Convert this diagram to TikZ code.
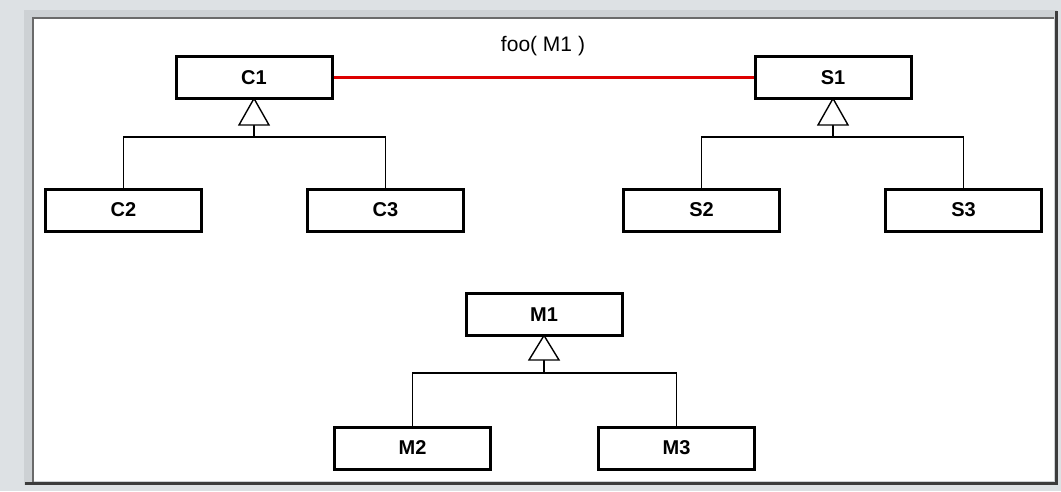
\documentclass[tikz,border=0pt]{standalone}
\usepackage{fontspec}
\setmainfont{Liberation Sans}
\begin{document}
\begin{tikzpicture}[x=1pt,y=-1pt,
  cls/.style={draw=black,line width=3pt,fill=white,inner sep=0pt,minimum width=156pt,minimum height=42pt,font=\fontsize{20}{22}\selectfont\bfseries},
  conn/.style={draw=black,line width=1.4pt},
  tri/.style={draw=black,line width=1.4pt,fill=white,line join=miter}]
\definecolor{bg}{HTML}{DDE1E4}
\definecolor{bevel}{HTML}{CDD1D4}
\definecolor{darkedge}{HTML}{6A6A6A}
\definecolor{darkedge2}{HTML}{3C3C3C}
\definecolor{assoc}{HTML}{DD0000}
\useasboundingbox (0,0) rectangle (1061,491);
\fill[bg] (0,0) rectangle (1061,491);
\fill[bevel] (24,10) rectangle (1057,485);
\fill[white] (34,19) rectangle (1054,481);
\draw[darkedge,line width=2.5pt] (33,483) -- (33,18) -- (1054,18);
\draw[darkedge2,line width=3pt] (25,483) -- (1056,483) -- (1056,11);
% classes
\node[cls] (C1) at (254,77.5) {C1};
\node[cls] (S1) at (833,77.5) {S1};
\node[cls] (C2) at (123.5,210) {C2};
\node[cls] (C3) at (385.5,210) {C3};
\node[cls] (S2) at (701.5,210) {S2};
\node[cls] (S3) at (963.5,210) {S3};
\node[cls] (M1) at (544,314.5) {M1};
\node[cls] (M2) at (412.5,448) {M2};
\node[cls] (M3) at (676.5,448) {M3};
% association
\draw[assoc,line width=3.5pt] (C1.east) -- (S1.west);
\node[font=\fontsize{21}{23}\selectfont] (lbl) at (543,46) {foo( M1 )};
% generalization C
\coordinate (tC) at ([yshift=1.5pt]C1.south);
\coordinate (bC) at (254,125);
\coordinate (hC) at (254,137);
\draw[conn] (bC) -- (hC);
\draw[conn] (C2.north) |- (hC) -| (C3.north);
\draw[tri] (tC) -- ([xshift=-15pt]bC) -- ([xshift=15pt]bC) -- cycle;
% generalization S
\coordinate (tS) at ([yshift=1.5pt]S1.south);
\coordinate (bS) at (833,125);
\coordinate (hS) at (833,137);
\draw[conn] (bS) -- (hS);
\draw[conn] (S2.north) |- (hS) -| (S3.north);
\draw[tri] (tS) -- ([xshift=-15pt]bS) -- ([xshift=15pt]bS) -- cycle;
% generalization M
\coordinate (tM) at ([yshift=1.5pt]M1.south);
\coordinate (bM) at (544,360);
\coordinate (hM) at (544,373);
\draw[conn] (bM) -- (hM);
\draw[conn] (M2.north) |- (hM) -| (M3.north);
\draw[tri] (tM) -- ([xshift=-15pt]bM) -- ([xshift=15pt]bM) -- cycle;
\end{tikzpicture}
\end{document}
